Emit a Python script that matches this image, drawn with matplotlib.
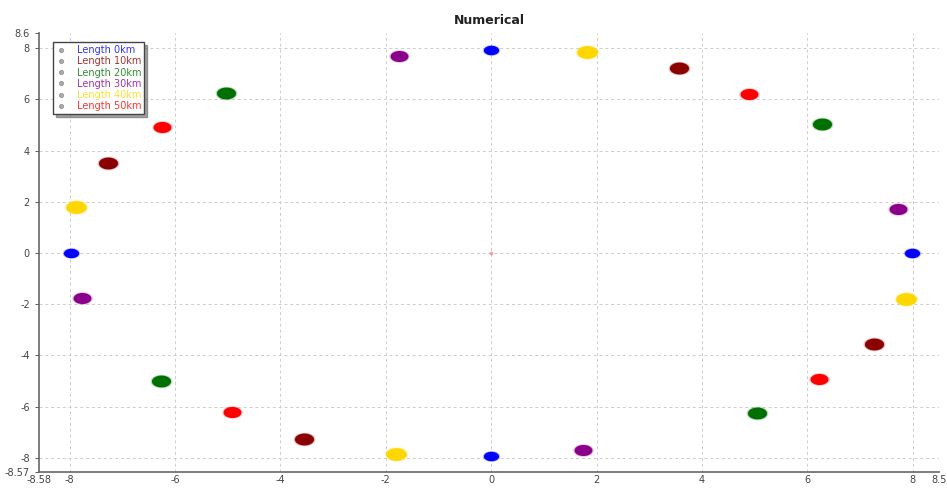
import numpy as np
import matplotlib
matplotlib.use("Agg")
import matplotlib.pyplot as plt
from matplotlib.path import Path
from matplotlib.lines import Line2D

# cluster centres (4 per fibre length)
labels = ["Length 0km", "Length 10km", "Length 20km", "Length 30km", "Length 40km", "Length 50km"]
colors = ["#0000ff", "#8b0000", "#007000", "#8b008b", "#ffd700", "#ff0000"]

x_0km = [0.0, 7.98, 0.0, -7.98]
y_0km = [7.93, 0.0, -7.95, 0.0]
x_10km = [3.56, 7.27, -3.55, -7.28]
y_10km = [7.24, -3.55, -7.25, 3.53]
x_20km = [6.28, 5.05, -6.26, -5.04]
y_20km = [5.03, -6.26, -5.02, 6.26]
x_30km = [-1.74, 7.73, 1.75, -7.76]
y_30km = [7.69, 1.72, -7.71, -1.74]
x_40km = [1.81, 7.88, -1.80, -7.88]
y_40km = [7.86, -1.81, -7.86, 1.79]
x_50km = [4.89, 6.22, -4.91, -6.24]
y_50km = [6.20, -4.91, -6.21, 4.91]
xs = [x_0km, x_10km, x_20km, x_30km, x_40km, x_50km]
ys = [y_0km, y_10km, y_20km, y_30km, y_40km, y_50km]
blob_size = [120, 190, 190, 165, 220, 165]

x_ticks = [-8.58, -8, -6, -4, -2, 0, 2, 4, 6, 8, 8.5]
y_ticks = [-8.57, -8, -6, -4, -2, 0, 2, 4, 6, 8, 8.6]

# flattened ellipse marker for the noisy point clouds
t = np.linspace(0, 2 * np.pi, 60)
blob = Path(np.column_stack([np.cos(t) * 1.0, np.sin(t) * 0.62]), closed=True)

fig = plt.figure(figsize=(9.47, 4.9), dpi=100)
ax = fig.add_axes([0.0412, 0.036, 0.9504, 0.897])

for x, y, c, s in zip(xs, ys, colors, blob_size):
    ax.scatter(x, y, s=s * 1.3, marker=blob, color=c, alpha=0.25, linewidths=0, zorder=3)
    ax.scatter(x, y, s=s, marker=blob, color=c, linewidths=0, zorder=4)

# faint point at the origin
ax.scatter([0], [0], s=8, color="#ff8080", alpha=0.7, linewidths=0, zorder=3)

ax.set_xlim(x_ticks[0], x_ticks[-1])
ax.set_ylim(y_ticks[0], y_ticks[-1])
ax.set_xticks(x_ticks)
ax.set_yticks(y_ticks)
ax.set_xticklabels([f"{v:g}" for v in x_ticks])
ax.set_yticklabels([f"{v:g}" for v in y_ticks])
ax.tick_params(labelsize=7, colors="#444444", length=3, width=0.6)
ax.tick_params(axis="x", length=0, pad=2)

for v in x_ticks[1:-1]:
    ax.axvline(v, color="#cccccc", ls=(0, (3, 3)), lw=0.7, zorder=1)
for v in y_ticks[1:-1]:
    ax.axhline(v, color="#cccccc", ls=(0, (3, 3)), lw=0.7, zorder=1)

for side in ["top", "right"]:
    ax.spines[side].set_visible(False)
for side in ["left", "bottom"]:
    ax.spines[side].set_color("#666666")
    ax.spines[side].set_linewidth(1.2)

ax.set_title("Numerical", fontsize=9, fontweight="bold", color="#222222", pad=6)

handles = [Line2D([], [], ls="none", marker="o", ms=3, mfc="#aaaaaa", mec="#888888", mew=0.5)
           for _ in labels]
leg = ax.legend(handles, labels, loc="upper left", bbox_to_anchor=(0.012, 0.985), fontsize=7,
                frameon=True, fancybox=False, shadow=True, handlelength=1.2, handletextpad=1.0,
                labelspacing=0.12, borderpad=0.3, borderaxespad=0.3)
leg.get_frame().set_edgecolor("#444444")
leg.get_frame().set_linewidth(1.0)
for txt, c in zip(leg.get_texts(), colors):
    txt.set_color(c)
    txt.set_alpha(0.8)

fig.savefig("out.png", dpi=100)
